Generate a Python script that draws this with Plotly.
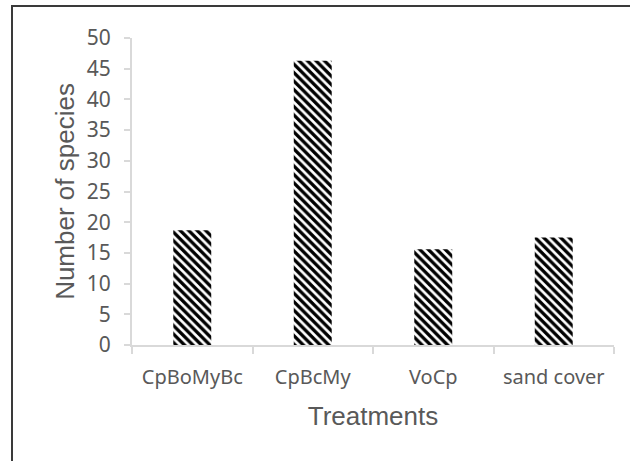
import plotly.graph_objects as go

# Species counts per treatment
treatments = ["CpBoMyBc", "CpBcMy", "VoCp", "sand cover"]
species_counts = [18.7, 46.3, 15.6, 17.5]
y_tick_values = [0, 5, 10, 15, 20, 25, 30, 35, 40, 45, 50]

W, H = 630, 461
ML, MR, MT, MB = 132, 16, 38, 116
plot_w = W - ML - MR
plot_h = H - MT - MB

fig = go.Figure(
    go.Bar(
        x=treatments,
        y=species_counts,
        width=0.315,
        marker=dict(
            color="white",
            line=dict(width=0),
            pattern=dict(shape="\\", fgcolor="black", bgcolor="white",
                         size=6, solidity=0.55, fillmode="replace"),
        ),
        hoverinfo="x+y",
    )
)

axis_grey = "#d9d9d9"
text_grey = "#595959"

fig.update_layout(
    width=W,
    height=H,
    margin=dict(l=ML, r=MR, t=MT, b=MB),
    paper_bgcolor="white",
    plot_bgcolor="white",
    showlegend=False,
    font=dict(family="Noto Sans, Open Sans, sans-serif", color=text_grey),
    xaxis=dict(
        showline=True, linecolor=axis_grey, linewidth=2,
        ticks="outside", tickson="boundaries", ticklen=7,
        tickcolor=axis_grey, tickwidth=2,
        showgrid=False, zeroline=False,
        ticklabelstandoff=13,
        tickfont=dict(size=20, color=text_grey),
        title=dict(text="Treatments", standoff=18,
                   font=dict(family="Liberation Sans, Arial, sans-serif",
                             size=26, color=text_grey)),
    ),
    yaxis=dict(
        range=[0, 50],
        tickvals=y_tick_values,
        showline=True, linecolor=axis_grey, linewidth=2,
        ticks="outside", ticklen=6, tickcolor=axis_grey, tickwidth=2,
        showgrid=False, zeroline=False,
        ticklabelstandoff=9,
        tickfont=dict(size=21, color=text_grey),
        title=dict(text="Number of species", standoff=5,
                   font=dict(family="Liberation Sans, Arial, sans-serif",
                             size=26, color=text_grey)),
    ),
)

# Outer frame around the chart area (open on the right and bottom edges)
def px_x(px):
    return (px - ML) / plot_w

def px_y(py):
    return (H - MB - py) / plot_h

fig.add_shape(
    type="rect", xref="paper", yref="paper",
    x0=px_x(12), x1=px_x(W + 20), y0=px_y(H + 20), y1=px_y(6),
    line=dict(color="#3a3a3a", width=2), fillcolor="rgba(0,0,0,0)",
    layer="above",
)

fig.write_html("out.html")
